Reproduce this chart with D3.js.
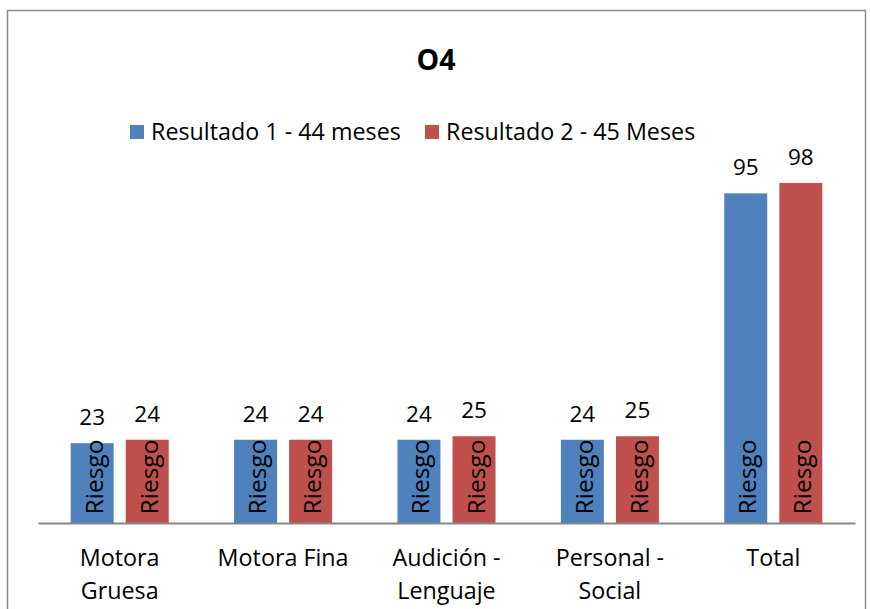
<!DOCTYPE html>
<html><head><meta charset="utf-8">
<script src="https://cdn.jsdelivr.net/npm/d3@7"></script>
<style>body{margin:0;background:#fff}svg{display:block}text{font-family:"Open Sans",sans-serif;fill:#000}</style>
</head><body><svg id="c" width="870" height="609"></svg>
<script>
const categories = ["Motora Gruesa","Motora Fina","Audición - Lenguaje","Personal - Social","Total"];
const tickLines = [["Motora","Gruesa"],["Motora Fina"],["Audición -","Lenguaje"],["Personal -","Social"],["Total"]];
const seriesNames = ["Resultado 1 - 44 meses","Resultado 2 - 45 Meses"];
const serie1 = [23,24,24,24,95];
const serie2 = [24,24,25,25,98];
const barLabel = "Riesgo";
const colors = ["#4F81BD","#C0504D"];

const svg = d3.select("#c");
svg.append("rect").attr("x",7.5).attr("y",10.5).attr("width",858).attr("height",620)
  .attr("fill","none").attr("stroke","#8c8c8c").attr("stroke-width",1.5);

const x0 = d3.scaleBand().domain(categories).range([38,855]).paddingInner(0.4).paddingOuter(0.2);
const x1 = d3.scaleBand().domain([0,1]).range([0,x0.bandwidth()]).paddingInner(0.22);
const y = d3.scaleLinear().domain([0,100]).range([523,176]);

const data = categories.map((c,i)=>({c, vals:[serie1[i],serie2[i]]}));

const g = svg.append("g");
const groups = g.selectAll("g.grp").data(data).join("g").attr("class","grp")
  .attr("transform",d=>`translate(${x0(d.c)},0)`);
groups.selectAll("rect").data(d=>d.vals.map((v,k)=>({v,k}))).join("rect")
  .attr("x",d=>x1(d.k)).attr("width",x1.bandwidth())
  .attr("y",d=>y(d.v)).attr("height",d=>y(0)-y(d.v)).attr("fill",d=>colors[d.k]);
groups.selectAll("text.val").data(d=>d.vals.map((v,k)=>({v,k}))).join("text").attr("class","val")
  .attr("x",d=>x1(d.k)+x1.bandwidth()/2).attr("y",d=>y(d.v)-18)
  .attr("text-anchor","middle").attr("font-size",22.5).text(d=>d.v);
groups.selectAll("text.rl").data(d=>d.vals.map((v,k)=>({v,k}))).join("text").attr("class","rl")
  .attr("transform",d=>`translate(${x1(d.k)+x1.bandwidth()/2+1},${y(0)-46}) rotate(-90)`)
  .attr("text-anchor","middle").attr("dominant-baseline","central").attr("font-size",24.5).text(barLabel);

// axis
const ax = svg.append("g").attr("transform",`translate(0,${y(0)})`)
  .call(d3.axisBottom(x0).tickSize(0).tickFormat(""));
ax.select(".domain").attr("stroke","#868686").attr("stroke-width",2);
categories.forEach((c,i)=>{
  const t = svg.append("text").attr("x",x0(c)+x0.bandwidth()/2).attr("y",566)
    .attr("text-anchor","middle").attr("font-size",23.3);
  tickLines[i].forEach((ln,j)=>t.append("tspan").attr("x",x0(c)+x0.bandwidth()/2).attr("dy",j?33:0).text(ln));
});

// title
svg.append("text").attr("x",436).attr("y",70).attr("text-anchor","middle")
  .attr("font-size",28.5).attr("font-weight","bold").text("O4");

// legend
const leg = svg.append("g");
const legX = [130,425];
seriesNames.forEach((s,i)=>{
  leg.append("rect").attr("x",legX[i]).attr("y",125).attr("width",14).attr("height",14).attr("fill",colors[i]);
  leg.append("text").attr("x",legX[i]+21).attr("y",140).attr("font-size",23.3).text(s);
});
</script></body></html>
